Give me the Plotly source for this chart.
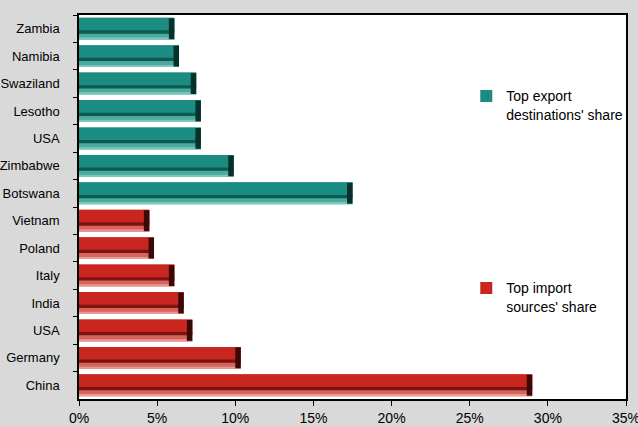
import plotly.graph_objects as go

export_countries = ["Zambia", "Namibia", "Swaziland", "Lesotho", "USA", "Zimbabwe", "Botswana"]
export_share = [6.1, 6.4, 7.5, 7.8, 7.8, 9.9, 17.5]

import_countries = ["Vietnam", "Poland", "Italy", "India", "\u200bUSA", "Germany", "China"]
import_share = [4.5, 4.8, 6.1, 6.7, 7.25, 10.35, 29.0]

x_ticks = [0, 5, 10, 15, 20, 25, 30, 35]
x_tick_labels = ["0%", "5%", "10%", "15%", "20%", "25%", "30%", "35%"]

FONT = "Liberation Sans, Arial, sans-serif"
CAP = 0.35  # width (in % units) of the dark end cap

palettes = {
    "export": dict(light="#4aaa9e", main="#1b8c81", dark="#0e5a52",
                   hi="#7cc7bd", cap="#08302b"),
    "import": dict(light="#d8625c", main="#c9261f", dark="#7a1410",
                   hi="#e79a94", cap="#3a0806"),
}

fig = go.Figure()

def add_group(cats, vals, pal, name, legend):
    p = palettes[pal]
    fig.add_trace(go.Bar(y=cats, x=vals, orientation="h", offset=-0.4, width=0.8,
                         marker=dict(color=p["light"], line=dict(width=0)),
                         showlegend=False, hoverinfo="skip"))
    fig.add_trace(go.Bar(y=cats, x=vals, orientation="h", offset=-0.4, width=0.5,
                         marker=dict(color=p["main"], line=dict(width=0)),
                         name=name, legend=legend, showlegend=True))
    fig.add_trace(go.Bar(y=cats, x=vals, orientation="h", offset=0.06, width=0.12,
                         marker=dict(color=p["dark"], line=dict(width=0)),
                         showlegend=False, hoverinfo="skip"))
    fig.add_trace(go.Bar(y=cats, x=vals, orientation="h", offset=0.32, width=0.08,
                         marker=dict(color=p["hi"], line=dict(width=0)),
                         showlegend=False, hoverinfo="skip"))
    fig.add_trace(go.Bar(y=cats, x=[CAP] * len(vals), base=[v - CAP for v in vals],
                         orientation="h", offset=-0.38, width=0.76,
                         marker=dict(color=p["cap"], line=dict(width=0)),
                         showlegend=False, hoverinfo="skip"))

add_group(export_countries, export_share, "export",
          "Top export<br>destinations' share", "legend")
add_group(import_countries, import_share, "import",
          "Top import<br>sources' share", "legend2")

categories = export_countries + import_countries

legend_style = dict(xanchor="left", yanchor="top", bgcolor="rgba(0,0,0,0)",
                    font=dict(size=14, family=FONT), valign="top",
                    itemwidth=30, tracegroupgap=0)

fig.update_layout(
    width=638, height=426,
    margin=dict(l=79, r=12, t=15, b=27, autoexpand=False),
    paper_bgcolor="#d9d9d9",
    plot_bgcolor="#ffffff",
    barmode="overlay",
    font=dict(family=FONT, size=14, color="#000000"),
    legend=dict(x=0.708, y=0.83, **legend_style),
    legend2=dict(x=0.708, y=0.33, **legend_style),
    xaxis=dict(range=[0, 35], tickvals=x_ticks, ticktext=x_tick_labels,
               showgrid=False, zeroline=False, showline=True, linecolor="#000000",
               linewidth=1.5, mirror=True, ticks="outside", ticklen=5,
               tickcolor="#000000", automargin=False, ticklabeloverflow="allow",
               tickfont=dict(size=14, family=FONT)),
    yaxis=dict(type="category", categoryorder="array", categoryarray=categories,
               autorange="reversed", showgrid=False, showline=True,
               linecolor="#000000", linewidth=1.5, mirror=True,
               ticks="outside", ticklen=4, tickcolor="#000000",
               tickson="boundaries", ticklabelstandoff=15, automargin=False,
               ticklabeloverflow="allow",
               tickfont=dict(size=13, family=FONT)),
)

fig.write_html("out.html", config={"displayModeBar": False},
               post_script="document.body.style.margin='0';document.body.style.overflow='hidden';")
